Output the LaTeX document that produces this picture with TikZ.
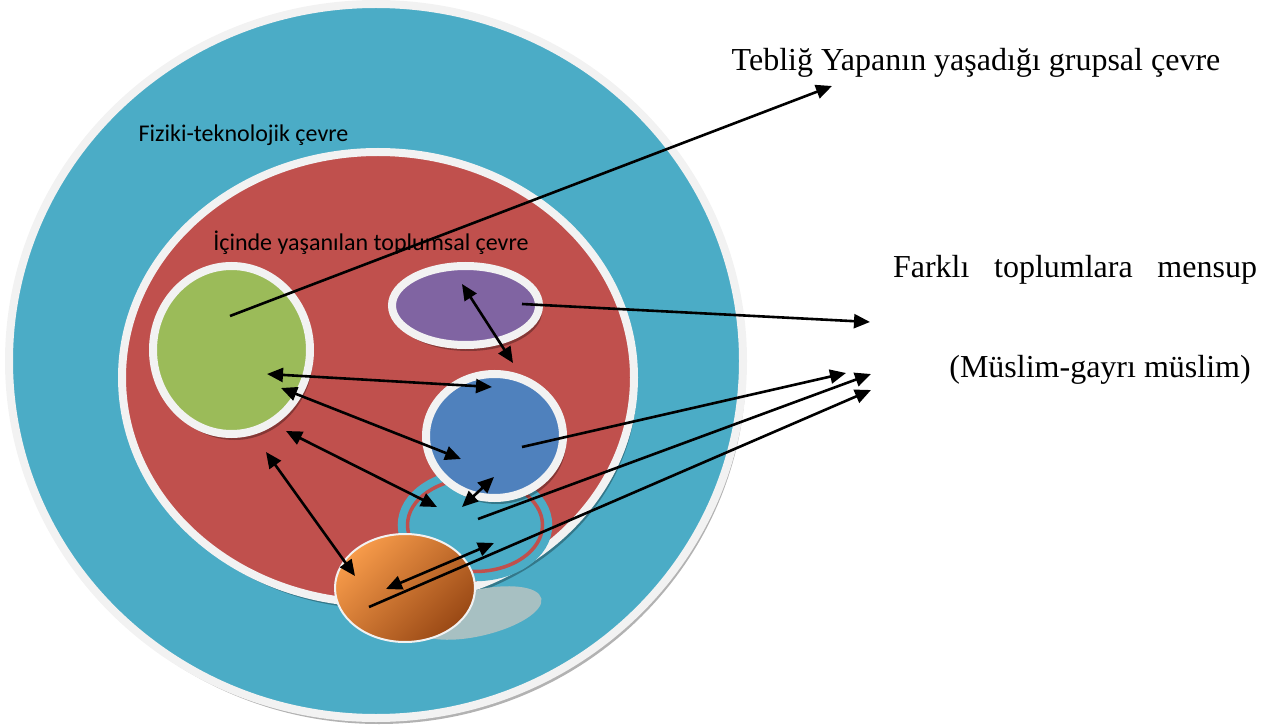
\documentclass[tikz,border=0pt]{standalone}
\usepackage{fontspec}
\setmainfont{Liberation Serif}
\newfontfamily\calibrifont{Carlito}
\usetikzlibrary{shapes.geometric,arrows.meta,shadows}
\definecolor{envteal}{HTML}{4BACC6}
\definecolor{envred}{HTML}{C0504D}
\definecolor{envgreen}{HTML}{9BBB59}
\definecolor{envpurple}{HTML}{8064A2}
\definecolor{envblue}{HTML}{4F81BD}
\definecolor{envorange}{HTML}{F79B4A}
\definecolor{envbrown}{HTML}{9A4915}
\definecolor{envrim}{HTML}{F2F2F2}
\definecolor{envshade}{HTML}{A7C0C2}

\begin{document}
\begin{tikzpicture}[x=1pt,y=-1pt,
	envnode/.style={ellipse, draw=envrim, line width=8pt, inner sep=0pt, drop shadow={shadow xshift=3pt, shadow yshift=-6pt, fill=black, opacity=0.3}},
	sanslabel/.style={font=\calibrifont\fontsize{24}{28}\selectfont, inner sep=0pt},
	seriflabel/.style={font=\fontsize{32}{38}\selectfont, inner sep=0pt},
	link/.style={line width=2.6pt, -{Triangle[length=16pt,width=14pt]}},
	duallink/.style={line width=2.6pt, {Triangle[length=16pt,width=14pt]}-{Triangle[length=16pt,width=14pt]}}]
		\useasboundingbox (0,0) rectangle (1266,727);
		\node[envnode, fill=envteal, minimum width=734pt, minimum height=714pt] (physical) at (376,361) {};
		\node[envnode, fill=envred, minimum width=512pt, minimum height=451pt] (social) at (378,377.5) {};
		\node[ellipse, fill=envteal, draw=envteal, double=envred, double distance=3.5pt, line width=8pt, inner sep=0pt, minimum width=135pt, minimum height=93pt] (ring) at (475,525) {};
		\node[envnode, fill=envgreen, minimum width=157pt, minimum height=168pt] (groupA) at (231.5,350) {};
		\node[envnode, fill=envpurple, minimum width=147pt, minimum height=79pt] (groupB) at (465.5,305.5) {};
		\node[envnode, fill=envblue, minimum width=137pt, minimum height=124pt] (groupC) at (494.5,436) {};
		\node[ellipse, fill=envshade, inner sep=0pt, minimum width=130pt, minimum height=46pt, rotate=13] (shade) at (478,613) {};
		\node[ellipse, draw=envrim, line width=2pt, inner sep=0pt, top color=envorange, bottom color=envbrown, shading angle=45, minimum width=140pt, minimum height=108pt] (groupE) at (405,588) {};
		\node[sanslabel] (physlabel) at (243.5,135) {Fiziki-teknolojik çevre};
		\node[sanslabel] (sociallabel) at (371,243) {İçinde yaşanılan toplumsal çevre};
		\node[seriflabel] (grouplabel) at (976,63) {Tebliğ Yapanın yaşadığı grupsal çevre};
		\node[seriflabel] (otherlabel) at (1075,270) {\makebox[364pt][s]{Farklı toplumlara mensup}};
		\node[seriflabel] (religionlabel) at (1100,370) {(Müslim-gayrı müslim)};
		\coordinate (gS) at (230,316);
		\coordinate (pS) at (522,304);
		\coordinate (bS) at (522,447);
		\coordinate (rS) at (478,519);
		\coordinate (oS) at (369,607);
		\coordinate (tA) at (832,86);
		\coordinate (tB) at (870,322);
		\coordinate (tC) at (846,373);
		\coordinate (tD) at (871,374);
		\coordinate (tE) at (871,390);
		\coordinate (p1) at (462,284);
		\coordinate (p2) at (513,363);
		\coordinate (g1) at (267,374);
		\coordinate (b1) at (492,387);
		\coordinate (g2) at (281,388);
		\coordinate (b2) at (461,459);
		\coordinate (g3) at (286,431);
		\coordinate (r1) at (437,507);
		\coordinate (g4) at (266,452);
		\coordinate (o1) at (355,576);
		\coordinate (b3) at (494,477);
		\coordinate (r2) at (462,507);
		\coordinate (o2) at (386,589);
		\coordinate (r3) at (494,543);
		\draw[link] (gS) -- (tA);
		\draw[link] (pS) -- (tB);
		\draw[link] (bS) -- (tC);
		\draw[link] (rS) -- (tD);
		\draw[link] (oS) -- (tE);
		\draw[duallink] (p1) -- (p2);
		\draw[duallink] (g1) -- (b1);
		\draw[duallink] (g2) -- (b2);
		\draw[duallink] (g3) -- (r1);
		\draw[duallink] (g4) -- (o1);
		\draw[duallink] (b3) -- (r2);
		\draw[duallink] (o2) -- (r3);
	\end{tikzpicture}
\end{document}
